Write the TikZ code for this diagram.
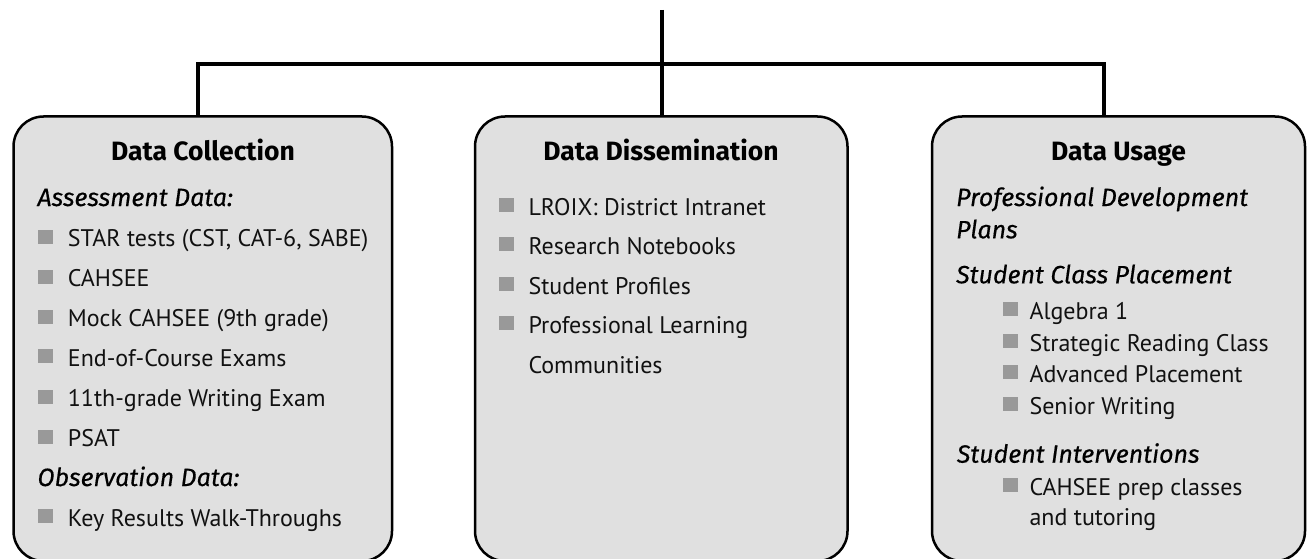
\documentclass[tikz,border=0pt]{standalone}
\usepackage{fontspec}
\setmainfont{PT Sans}
\newfontfamily\headfont{Fira Sans}
\newfontfamily\labfont{Fira Sans}[FakeBold=0.4]
\definecolor{boxfill}{HTML}{E0E0E0}
\definecolor{bulgray}{HTML}{999999}
\definecolor{ink}{HTML}{111111}
\newcommand\mkitem[5]{%
  \node[bul] (#1b) at (#2, #4-17.4) {};
  \node[txt] (#1) at (#3, #4) {#5};
}
\begin{document}
\begin{tikzpicture}[x=1pt,y=-1pt,
  box/.style={draw=black, line width=2.5pt, fill=boxfill, rounded corners=30pt, inner sep=0pt, rectangle},
  conn/.style={line width=4.5pt, line join=miter},
  bul/.style={fill=bulgray, minimum width=15pt, minimum height=14pt, inner sep=0pt, anchor=north west, rectangle},
  txt/.style={inner sep=0pt, anchor=base west, text=ink, font=\fontsize{24}{28}\selectfont},
  ttl/.style={inner sep=0pt, anchor=base, text=black, font=\fontsize{26.5}{30}\selectfont\headfont\bfseries},
  lbl/.style={inner sep=0pt, anchor=base west, text=black, font=\fontsize{25}{29}\selectfont\labfont\itshape}]
\useasboundingbox (0,0) rectangle (1308,559);
\clip (0,0) rectangle (1308,559);
% boxes
\node[box, minimum width=378.5pt, minimum height=444.5pt] (left) at (202.75,338.75) {};
\node[box, minimum width=372.5pt, minimum height=444.5pt] (mid) at (661.25,338.75) {};
\node[box, minimum width=373pt, minimum height=444.5pt] (right) at (1118.5,338.75) {};
% connectors
\coordinate (top) at (662,10);
\coordinate (bus) at (662,64);
\coordinate (lj) at (198,116.5);
\coordinate (rj) at (1104,116.5);
\draw[conn] (lj) -- (lj |- bus) -- (rj |- bus) -- (rj);
\draw[conn] (top) -- (top |- mid.north);
% left box
\node[ttl] (lt) at (203,160) {Data Collection};
\node[lbl] (la) at (37.3,206) {Assessment Data:};
\mkitem{l1}{37.3}{67.7}{246.7}{STAR tests (CST, CAT-6, SABE)}
\mkitem{l2}{37.3}{67.7}{286.7}{CAHSEE}
\mkitem{l3}{37.3}{67.7}{326.7}{Mock CAHSEE (9th grade)}
\mkitem{l4}{37.3}{67.7}{366.2}{End-of-Course Exams}
\mkitem{l5}{37.3}{67.7}{406.7}{11th-grade Writing Exam}
\mkitem{l6}{37.3}{67.7}{446.7}{PSAT}
\node[lbl] (lo) at (37.3,486) {Observation Data:};
\mkitem{l7}{37.3}{67.7}{526}{Key Results Walk-Throughs}
% middle box
\node[ttl] (mt) at (661,160.7) {Data Dissemination};
\mkitem{m1}{499}{528.3}{215}{LROIX: District Intranet}
\mkitem{m2}{499}{528.3}{254.3}{Research Notebooks}
\mkitem{m3}{499}{528.3}{294}{Student Profiles}
\mkitem{m4}{499}{528.3}{333.5}{Professional Learning}
\node[txt] (m5) at (528.3,373.5) {Communities};
% right box
\node[ttl] (rt) at (1118.5,160.7) {Data Usage};
\node[lbl] (rp) at (956,206) {Professional Development};
\node[lbl] (rp2) at (956,238.3) {Plans};
\node[lbl] (rs) at (956,283.3) {Student Class Placement};
\mkitem{r1}{1002.3}{1029.3}{319.3}{Algebra 1}
\mkitem{r2}{1002.3}{1029.3}{351}{Strategic Reading Class}
\mkitem{r3}{1002.3}{1029.3}{382.5}{Advanced Placement}
\mkitem{r4}{1002.3}{1029.3}{414.5}{Senior Writing}
\node[lbl] (ri) at (956.7,462.7) {Student Interventions};
\mkitem{r5}{1002.3}{1029.3}{495}{CAHSEE prep classes}
\node[txt] (r6) at (1029.3,525) {and tutoring};
\end{tikzpicture}
\end{document}
